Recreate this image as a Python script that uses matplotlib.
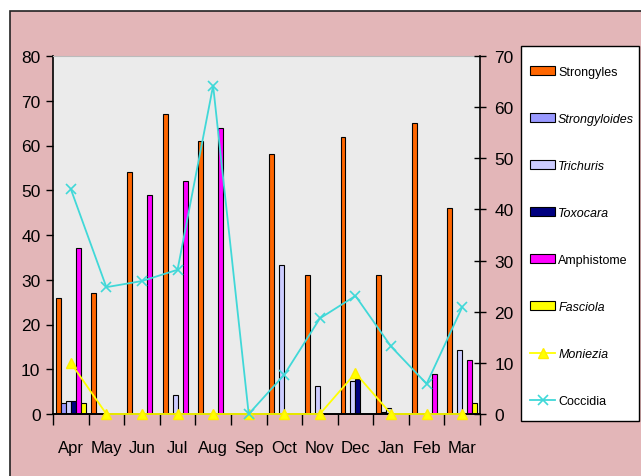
import numpy as np
import matplotlib
matplotlib.use('Agg')
import matplotlib.pyplot as plt
from matplotlib import font_manager
from matplotlib.patches import Rectangle

names = {f.name for f in font_manager.fontManager.ttflist}
fam = 'Liberation Sans Narrow' if 'Liberation Sans Narrow' in names else 'Liberation Sans'
plt.rcParams['font.family'] = [fam, 'DejaVu Sans']

months = ['Apr', 'May', 'Jun', 'Jul', 'Aug', 'Sep', 'Oct', 'Nov', 'Dec', 'Jan', 'Feb', 'Mar']

# bars, left axis (%)
strongyles    = [26, 27, 54, 67, 61, 0, 58, 31, 62, 31, 65, 46]
strongyloides = [2.4, 0, 0, 0, 0, 0, 0, 0, 0, 0.5, 0, 0]
trichuris     = [3, 0, 0, 4.2, 0, 0, 33.4, 6.3, 7.4, 1.3, 0, 14.3]
toxocara      = [3, 0, 0, 0, 0, 0, 0, 0, 7.8, 0, 0, 0]
amphistome    = [37.2, 0, 49, 52, 64, 0, 0, 0, 0, 0, 9, 12]
fasciola      = [2.4, 0, 0, 0, 0, 0, 0, 0, 0, 0, 0, 2.4]

# lines, right axis
moniezia = [10, 0, 0, 0, 0, 0, 0, 0, 8, 0, 0, 0]
coccidia = [44, 24.8, 26, 28.2, 64.2, 0, 7.7, 18.7, 23.1, 13.2, 5.9, 20.9]

bar_series = [
    ('Strongyles', strongyles, '#ff6600', 'normal'),
    ('Strongyloides', strongyloides, '#9999ff', 'italic'),
    ('Trichuris', trichuris, '#ccccff', 'italic'),
    ('Toxocara', toxocara, '#000080', 'italic'),
    ('Amphistome', amphistome, '#ff00ff', 'normal'),
    ('Fasciola', fasciola, '#ffff00', 'italic'),
]

W, H = 641, 477
fig = plt.figure(figsize=(W / 100, H / 100), dpi=100)
fig.patch.set_facecolor('white')
# pink panel
fig.patches.append(Rectangle((10 / W, -0.1), 1, 1.1 - 12 / H, transform=fig.transFigure,
                             facecolor='#e3b6b8', edgecolor='#222222', lw=1.2, zorder=-10))
# legend box
fig.patches.append(Rectangle((521 / W, 1 - 422 / H), 118 / W, 375 / H, transform=fig.transFigure,
                             facecolor='white', edgecolor='black', lw=1.0, zorder=-5))

ax = fig.add_axes([53 / W, 1 - 415 / H, (480 - 53) / W, (415 - 57) / H])
ax.set_facecolor('#ebebeb')

x = np.arange(len(months))
w = 0.14
handles = []
for i, (name, vals, col, style) in enumerate(bar_series):
    b = ax.bar(x + (i - 2.5) * w, vals, w, color=col, edgecolor='black', lw=0.8,
               label=name, zorder=2)
    handles.append(b)

ax.set_xlim(-0.5, len(months) - 0.5)
ax.set_ylim(0, 80)
ax.set_yticks(range(0, 81, 10))
ax.set_xticks(x)
ax.set_xticklabels(months)
ax.set_xticks(np.arange(-0.5, len(months), 1), minor=True)
ax.tick_params(axis='x', which='major', length=0, pad=19, labelsize=12)
ax.tick_params(axis='x', which='minor', length=8, width=1, direction='out')
ax.tick_params(axis='y', length=5, width=1, direction='out', labelsize=12.5, pad=4)
ax.spines['top'].set_color('#bbbbbb')
ax.spines['right'].set_visible(False)
ax.spines['left'].set_linewidth(1.2)
ax.spines['bottom'].set_linewidth(1.4)

ax2 = ax.twinx()
ax2.set_ylim(0, 70)
ax2.set_yticks(range(0, 71, 10))
ax2.tick_params(axis='y', length=9, width=1, direction='inout', labelsize=12.5, pad=6)
ax2.spines['right'].set_linewidth(1.2)
ax2.spines['top'].set_visible(False)
ax2.spines['left'].set_visible(False)
ax2.spines['bottom'].set_visible(False)

l1, = ax2.plot(x, moniezia, color='#ffff00', lw=1.3, marker='^', ms=7,
               mec='#ffee00', label='Moniezia', zorder=3, clip_on=False)
l2, = ax2.plot(x, coccidia, color='#40d8d8', lw=1.3, marker='x', ms=7, mew=1.2,
               label='Coccidia', zorder=3, clip_on=False)
handles += [l1, l2]

labels = [s[0] for s in bar_series] + ['Moniezia', 'Coccidia']
leg = fig.legend(handles, labels, loc='upper left',
                 bbox_to_anchor=(530 / W, 1 - 67 / H), fontsize=9,
                 frameon=False,
                 handlelength=2.0, handleheight=0.65, handletextpad=0.25,
                 labelspacing=2.8, borderpad=0, borderaxespad=0)
styles = [s[3] for s in bar_series] + ['italic', 'normal']
for t, st in zip(leg.get_texts(), styles):
    t.set_fontstyle(st)

fig.savefig('out.png', dpi=100)
